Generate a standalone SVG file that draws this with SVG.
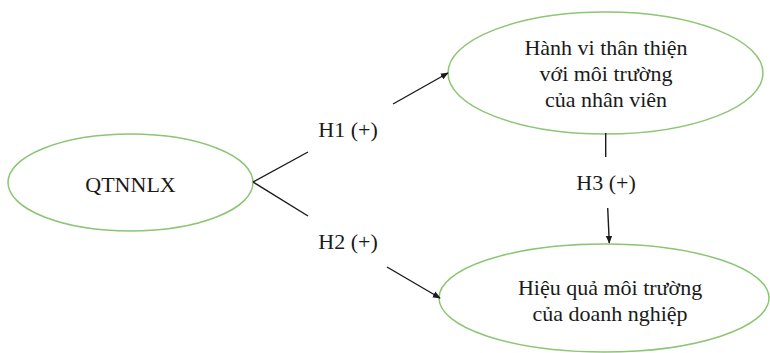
<svg xmlns="http://www.w3.org/2000/svg" width="770" height="353" viewBox="0 0 770 353">
  <style>
    .node ellipse { fill: #ffffff; stroke: #8cc574; stroke-width: 1.5; }
    text { font-family: "Liberation Serif", "Times New Roman", serif; font-size: 22px; fill: #1a1a1a; text-anchor: middle; }
    .edge { stroke: #1a1a1a; stroke-width: 1.4; fill: none; }
  </style>
  <defs>
    <marker id="arrow" viewBox="0 0 10 10" refX="9" refY="5" markerWidth="8" markerHeight="8" markerUnits="userSpaceOnUse" orient="auto">
      <path d="M0,1 L10,5 L0,9 Z" fill="#1a1a1a"/>
    </marker>
  </defs>
  <rect width="770" height="353" fill="#ffffff"/>

  <g id="qtnnlx" class="node">
    <ellipse cx="130.5" cy="182.5" rx="122.5" ry="48.5"/>
    <text x="130.5" y="192">QTNNLX</text>
  </g>

  <g id="hanh-vi" class="node">
    <ellipse cx="605.5" cy="73" rx="157.5" ry="61"/>
    <text x="606" y="55">Hành vi thân thiện</text>
    <text x="606" y="81">với môi trường</text>
    <text x="606" y="107">của nhân viên</text>
  </g>

  <g id="hieu-qua" class="node">
    <ellipse cx="604" cy="298" rx="165" ry="54"/>
    <text x="610" y="295">Hiệu quả môi trường</text>
    <text x="610" y="321">của doanh nghiệp</text>
  </g>

  <g id="connectors">
    <path class="edge" d="M253,182 L308,152"/>
    <path class="edge" d="M393,104 L448,73" marker-end="url(#arrow)"/>
    <path class="edge" d="M253,182 L308,216"/>
    <path class="edge" d="M387,267 L440,298" marker-end="url(#arrow)"/>
    <path class="edge" d="M605.7,133 L605.7,157"/>
    <path class="edge" d="M607.7,208 L609.3,243" marker-end="url(#arrow)"/>
    <text x="348" y="137">H1 (+)</text>
    <text x="348" y="249">H2 (+)</text>
    <text x="606" y="190">H3 (+)</text>
  </g>
</svg>
